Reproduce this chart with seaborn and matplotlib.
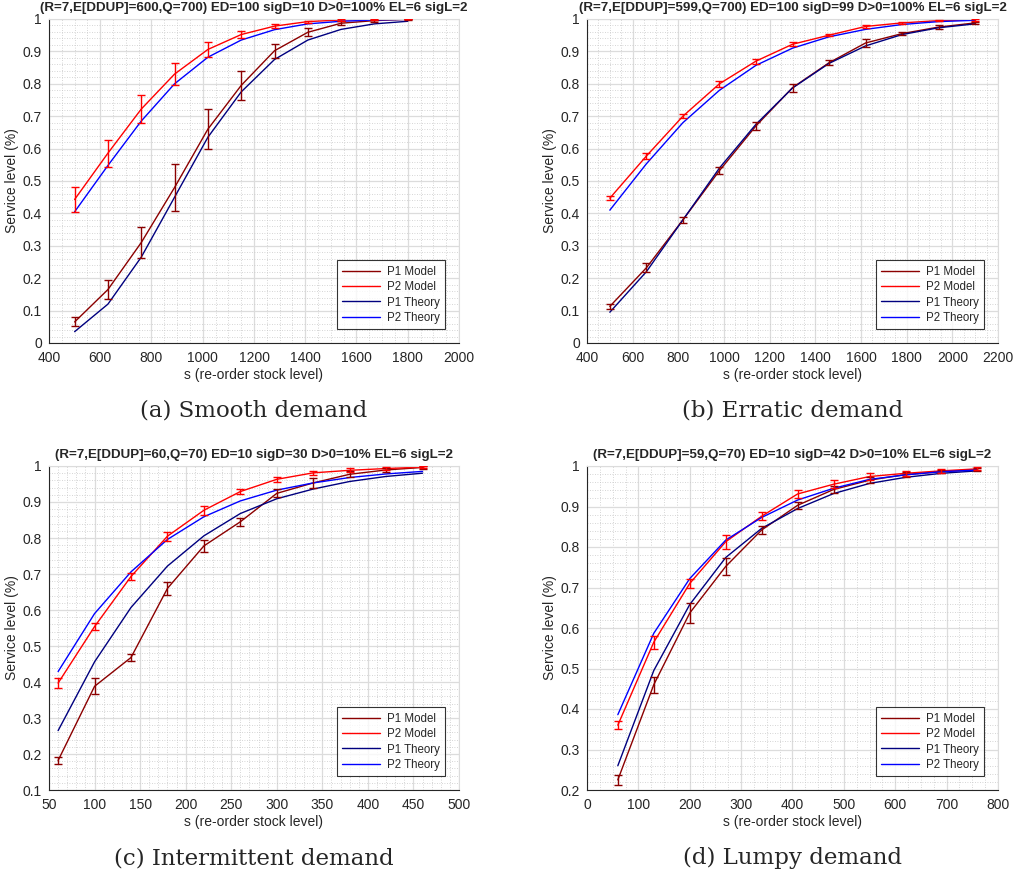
import numpy as np
import pandas as pd
import matplotlib
matplotlib.use("Agg")
import matplotlib.pyplot as plt
from matplotlib.ticker import MultipleLocator, FuncFormatter
import seaborn as sns

# ---------------- data ----------------
a_s = [500, 630, 760, 890, 1020, 1150, 1280, 1410, 1540, 1670, 1800]
a_p1_model = [0.065, 0.165, 0.31, 0.48, 0.66, 0.795, 0.902, 0.959, 0.987, 0.995, 0.999]
a_p1_err = [0.014, 0.03, 0.049, 0.073, 0.062, 0.045, 0.022, 0.012, 0.006, 0.003, 0.001]
a_p2_model = [0.443, 0.586, 0.722, 0.83, 0.906, 0.952, 0.978, 0.992, 0.997, 0.999, 1.0]
a_p2_err = [0.038, 0.042, 0.043, 0.033, 0.022, 0.011, 0.006, 0.003, 0.002, 0.001, 0.001]
a_p1_theory = [0.035, 0.12, 0.265, 0.45, 0.635, 0.775, 0.875, 0.935, 0.968, 0.985, 0.993]
a_p2_theory = [0.405, 0.548, 0.685, 0.80, 0.882, 0.935, 0.967, 0.985, 0.993, 0.997, 0.999]

b_s = [500, 660, 820, 980, 1140, 1300, 1460, 1620, 1780, 1940, 2100]
b_p1_model = [0.113, 0.232, 0.38, 0.532, 0.67, 0.788, 0.865, 0.926, 0.955, 0.975, 0.988]
b_p1_err = [0.008, 0.014, 0.01, 0.01, 0.013, 0.012, 0.008, 0.012, 0.005, 0.005, 0.003]
b_p2_model = [0.447, 0.577, 0.70, 0.80, 0.87, 0.922, 0.95, 0.977, 0.988, 0.995, 0.997]
b_p2_err = [0.007, 0.009, 0.007, 0.009, 0.008, 0.006, 0.004, 0.005, 0.003, 0.002, 0.002]
b_p1_theory = [0.095, 0.22, 0.38, 0.54, 0.675, 0.787, 0.863, 0.917, 0.952, 0.973, 0.985]
b_p2_theory = [0.41, 0.553, 0.68, 0.78, 0.857, 0.91, 0.945, 0.968, 0.983, 0.992, 0.996]

c_s = [60, 100, 140, 180, 220, 260, 300, 340, 380, 420, 460]
c_p1_model = [0.182, 0.388, 0.468, 0.66, 0.778, 0.845, 0.924, 0.953, 0.977, 0.989, 0.996]
c_p1_err = [0.01, 0.022, 0.01, 0.018, 0.017, 0.011, 0.011, 0.014, 0.008, 0.005, 0.003]
c_p2_model = [0.397, 0.554, 0.693, 0.805, 0.877, 0.929, 0.963, 0.981, 0.988, 0.993, 0.997]
c_p2_err = [0.015, 0.01, 0.011, 0.012, 0.013, 0.008, 0.007, 0.005, 0.006, 0.004, 0.003]
c_p1_theory = [0.265, 0.456, 0.607, 0.722, 0.806, 0.868, 0.909, 0.936, 0.957, 0.971, 0.98]
c_p2_theory = [0.429, 0.59, 0.706, 0.796, 0.859, 0.903, 0.933, 0.953, 0.968, 0.978, 0.985]

d_s = [60, 130, 200, 270, 340, 410, 480, 550, 620, 690, 760]
d_p1_model = [0.225, 0.46, 0.637, 0.752, 0.842, 0.903, 0.942, 0.965, 0.979, 0.986, 0.991]
d_p1_err = [0.012, 0.02, 0.025, 0.022, 0.01, 0.008, 0.008, 0.007, 0.005, 0.004, 0.003]
d_p2_model = [0.36, 0.565, 0.71, 0.813, 0.876, 0.931, 0.955, 0.974, 0.982, 0.988, 0.993]
d_p2_err = [0.01, 0.016, 0.012, 0.017, 0.01, 0.01, 0.01, 0.008, 0.006, 0.005, 0.004]
d_p1_theory = [0.26, 0.495, 0.658, 0.774, 0.846, 0.895, 0.932, 0.957, 0.972, 0.982, 0.988]
d_p2_theory = [0.386, 0.587, 0.722, 0.817, 0.873, 0.916, 0.945, 0.967, 0.978, 0.986, 0.99]

titles = [
    "(R=7,E[DDUP]=600,Q=700) ED=100 sigD=10 D>0=100% EL=6 sigL=2",
    "(R=7,E[DDUP]=599,Q=700) ED=100 sigD=99 D>0=100% EL=6 sigL=2",
    "(R=7,E[DDUP]=60,Q=70) ED=10 sigD=30 D>0=10% EL=6 sigL=2",
    "(R=7,E[DDUP]=59,Q=70) ED=10 sigD=42 D>0=10% EL=6 sigL=2",
]
captions = ["(a) Smooth demand", "(b) Erratic demand",
            "(c) Intermittent demand", "(d) Lumpy demand"]
series_names = ["P1 Model", "P2 Model", "P1 Theory", "P2 Theory"]
x_label = "s (re-order stock level)"
y_label = "Service level (%)"

# ---------------- style ----------------
sns.set_theme(style="white")
plt.rcParams["font.family"] = ["Liberation Sans", "DejaVu Sans"]

col_p1m = "#8b0000"
col_p2m = "#ff0000"
col_p1t = "#00007f"
col_p2t = "#0000ff"
tick_col = "#262626"

W, H = 1014, 882
fig = plt.figure(figsize=(W / 100, H / 100), dpi=100)
fig.patch.set_facecolor("white")

panels = [
    dict(s=a_s, m1=a_p1_model, e1=a_p1_err, m2=a_p2_model, e2=a_p2_err,
         t1=a_p1_theory, t2=a_p2_theory, xlim=(400, 2000), xmaj=200, xmin=50,
         ylim=(0, 1), box=(49, 19, 410, 324)),
    dict(s=b_s, m1=b_p1_model, e1=b_p1_err, m2=b_p2_model, e2=b_p2_err,
         t1=b_p1_theory, t2=b_p2_theory, xlim=(400, 2200), xmaj=200, xmin=50,
         ylim=(0, 1), box=(587, 19, 411, 324)),
    dict(s=c_s, m1=c_p1_model, e1=c_p1_err, m2=c_p2_model, e2=c_p2_err,
         t1=c_p1_theory, t2=c_p2_theory, xlim=(50, 500), xmaj=50, xmin=10,
         ylim=(0.1, 1), box=(49, 466, 410, 324)),
    dict(s=d_s, m1=d_p1_model, e1=d_p1_err, m2=d_p2_model, e2=d_p2_err,
         t1=d_p1_theory, t2=d_p2_theory, xlim=(0, 800), xmaj=100, xmin=25,
         ylim=(0.2, 1), box=(587, 466, 411, 324)),
]


def yfmt(v, pos):
    if abs(v - round(v)) < 1e-9:
        return "%d" % round(v)
    return ("%.1f" % v)


for i, p in enumerate(panels):
    x0, y0, w, h = p["box"]
    ax = fig.add_axes([x0 / W, 1 - (y0 + h) / H, w / W, h / H])
    df = pd.DataFrame({
        "s": p["s"] * 4,
        "level": p["m1"] + p["m2"] + p["t1"] + p["t2"],
        "series": sum([[n] * len(p["s"]) for n in series_names], []),
    })
    sns.lineplot(data=df, x="s", y="level", hue="series",
                 hue_order=series_names,
                 palette=[col_p1m, col_p2m, col_p1t, col_p2t],
                 linewidth=1.0, ax=ax, errorbar=None, sort=False)
    ax.errorbar(p["s"], p["m1"], yerr=p["e1"], fmt="none", ecolor=col_p1m,
                elinewidth=1.0, capsize=3, capthick=1.0, zorder=3)
    ax.errorbar(p["s"], p["m2"], yerr=p["e2"], fmt="none", ecolor=col_p2m,
                elinewidth=1.0, capsize=3, capthick=1.0, zorder=3)

    ax.set_xlim(*p["xlim"])
    ax.set_ylim(*p["ylim"])
    ax.xaxis.set_major_locator(MultipleLocator(p["xmaj"]))
    ax.xaxis.set_minor_locator(MultipleLocator(p["xmin"]))
    ax.yaxis.set_major_locator(MultipleLocator(0.1))
    ax.yaxis.set_minor_locator(MultipleLocator(0.02))
    ax.yaxis.set_major_formatter(FuncFormatter(yfmt))
    ax.grid(which="major", color="#dcdcdc", linewidth=0.9, linestyle="-")
    ax.grid(which="minor", color="#c8c8c8", linewidth=0.6, linestyle=(0, (1, 2)))
    ax.set_axisbelow(True)
    ax.tick_params(axis="both", which="major", labelsize=10, colors=tick_col,
                   length=3, direction="in")
    ax.tick_params(axis="x", which="major", pad=6)
    ax.tick_params(axis="y", which="major", pad=5)
    ax.tick_params(axis="both", which="minor", length=0)
    for side in ["left", "bottom"]:
        ax.spines[side].set_color(tick_col)
        ax.spines[side].set_linewidth(0.8)
    for side in ["top", "right"]:
        ax.spines[side].set_color("#dcdcdc")
        ax.spines[side].set_linewidth(0.8)

    ax.set_xlabel(x_label, fontsize=10, color=tick_col, labelpad=2)
    ax.set_ylabel(y_label, fontsize=10, color=tick_col, labelpad=3)
    ax.set_title(titles[i], fontsize=9.6, fontweight="bold", pad=6)

    leg = ax.legend(loc="lower right", fontsize=8.3, frameon=True, fancybox=False,
                    edgecolor="black", borderpad=0.45, handlelength=3.3,
                    labelspacing=0.3, borderaxespad=1.2, handletextpad=0.6)
    leg.get_frame().set_linewidth(0.8)

    cx = (x0 + w / 2) / W
    cy = 1 - (y0 + h + 68) / H
    fig.text(cx, cy, captions[i], ha="center", va="center", fontsize=16.5,
             family=["DejaVu Serif"])

fig.savefig("out.png", dpi=100, facecolor="white")
